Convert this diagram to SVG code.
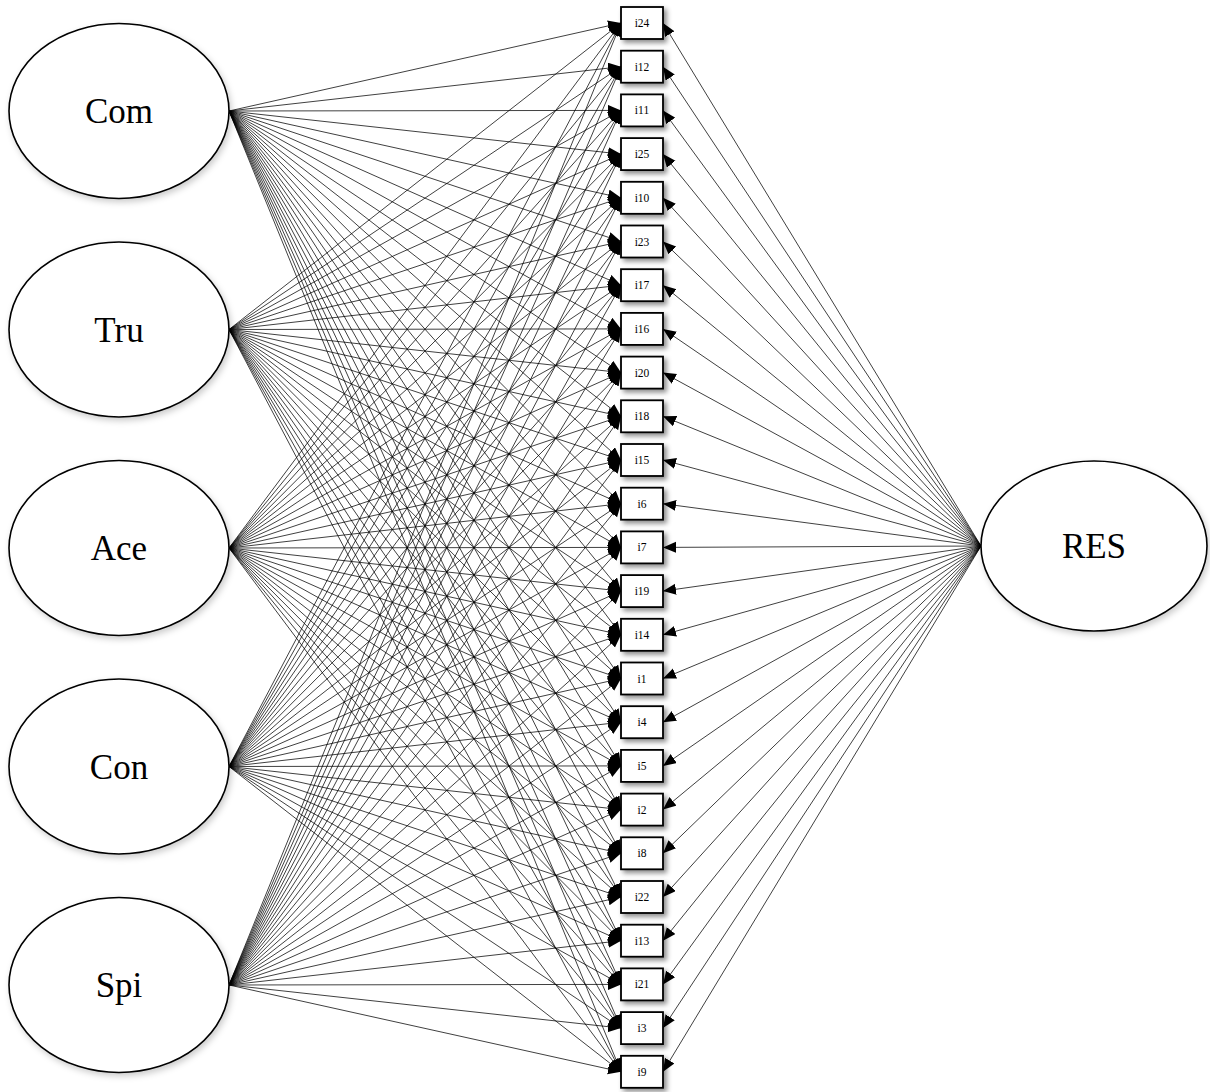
<svg xmlns="http://www.w3.org/2000/svg" width="1210" height="1092" viewBox="0 0 1210 1092">
<style>
.bg{fill:#fff}
.lat{fill:#fff;stroke:#000;stroke-width:1.6;filter:url(#esh)}
.lt{font-family:"Liberation Serif","DejaVu Serif",serif;font-size:35px;fill:#000;text-anchor:middle}
.box{fill:#fff;stroke:#000;stroke-width:1.8;filter:url(#bsh)}
.bt{font-family:"Liberation Serif","DejaVu Serif",serif;font-size:11.5px;fill:#000;text-anchor:middle}
#edges line{stroke:#000;stroke-width:.75;fill:none;marker-end:url(#ah)}
</style>
<defs>
<marker id="ah" markerUnits="userSpaceOnUse" markerWidth="14" markerHeight="12" refX="13" refY="5.5" orient="auto">
<path d="M0,0 L13,5.5 L0,11 z" fill="#000"/>
</marker>
<filter id="bsh" x="-30%" y="-30%" width="170%" height="170%">
<feDropShadow dx="3" dy="3" stdDeviation="2.5" flood-color="#000" flood-opacity="0.45"/>
</filter>
<filter id="esh" x="-10%" y="-10%" width="125%" height="130%">
<feDropShadow dx="2" dy="3" stdDeviation="3" flood-color="#000" flood-opacity="0.2"/>
</filter>
</defs>
<rect class="bg" x="0" y="0" width="1210" height="1092"/>
<g id="edges">
<g id="e-com">
<line x1="229" y1="111" x2="621" y2="23"/>
<line x1="229" y1="111" x2="621" y2="66.7"/>
<line x1="229" y1="111" x2="621" y2="110.4"/>
<line x1="229" y1="111" x2="621" y2="154.1"/>
<line x1="229" y1="111" x2="621" y2="197.8"/>
<line x1="229" y1="111" x2="621" y2="241.5"/>
<line x1="229" y1="111" x2="621" y2="285.2"/>
<line x1="229" y1="111" x2="621" y2="328.9"/>
<line x1="229" y1="111" x2="621" y2="372.6"/>
<line x1="229" y1="111" x2="621" y2="416.3"/>
<line x1="229" y1="111" x2="621" y2="460"/>
<line x1="229" y1="111" x2="621" y2="503.7"/>
<line x1="229" y1="111" x2="621" y2="547.4"/>
<line x1="229" y1="111" x2="621" y2="591.1"/>
<line x1="229" y1="111" x2="621" y2="634.8"/>
<line x1="229" y1="111" x2="621" y2="678.5"/>
<line x1="229" y1="111" x2="621" y2="722.2"/>
<line x1="229" y1="111" x2="621" y2="765.9"/>
<line x1="229" y1="111" x2="621" y2="809.6"/>
<line x1="229" y1="111" x2="621" y2="853.3"/>
<line x1="229" y1="111" x2="621" y2="897"/>
<line x1="229" y1="111" x2="621" y2="940.7"/>
<line x1="229" y1="111" x2="621" y2="984.4"/>
<line x1="229" y1="111" x2="621" y2="1028.1"/>
<line x1="229" y1="111" x2="621" y2="1071.8"/>
</g>
<g id="e-tru">
<line x1="229" y1="329.5" x2="621" y2="23"/>
<line x1="229" y1="329.5" x2="621" y2="66.7"/>
<line x1="229" y1="329.5" x2="621" y2="110.4"/>
<line x1="229" y1="329.5" x2="621" y2="154.1"/>
<line x1="229" y1="329.5" x2="621" y2="197.8"/>
<line x1="229" y1="329.5" x2="621" y2="241.5"/>
<line x1="229" y1="329.5" x2="621" y2="285.2"/>
<line x1="229" y1="329.5" x2="621" y2="328.9"/>
<line x1="229" y1="329.5" x2="621" y2="372.6"/>
<line x1="229" y1="329.5" x2="621" y2="416.3"/>
<line x1="229" y1="329.5" x2="621" y2="460"/>
<line x1="229" y1="329.5" x2="621" y2="503.7"/>
<line x1="229" y1="329.5" x2="621" y2="547.4"/>
<line x1="229" y1="329.5" x2="621" y2="591.1"/>
<line x1="229" y1="329.5" x2="621" y2="634.8"/>
<line x1="229" y1="329.5" x2="621" y2="678.5"/>
<line x1="229" y1="329.5" x2="621" y2="722.2"/>
<line x1="229" y1="329.5" x2="621" y2="765.9"/>
<line x1="229" y1="329.5" x2="621" y2="809.6"/>
<line x1="229" y1="329.5" x2="621" y2="853.3"/>
<line x1="229" y1="329.5" x2="621" y2="897"/>
<line x1="229" y1="329.5" x2="621" y2="940.7"/>
<line x1="229" y1="329.5" x2="621" y2="984.4"/>
<line x1="229" y1="329.5" x2="621" y2="1028.1"/>
<line x1="229" y1="329.5" x2="621" y2="1071.8"/>
</g>
<g id="e-ace">
<line x1="229" y1="548" x2="621" y2="23"/>
<line x1="229" y1="548" x2="621" y2="66.7"/>
<line x1="229" y1="548" x2="621" y2="110.4"/>
<line x1="229" y1="548" x2="621" y2="154.1"/>
<line x1="229" y1="548" x2="621" y2="197.8"/>
<line x1="229" y1="548" x2="621" y2="241.5"/>
<line x1="229" y1="548" x2="621" y2="285.2"/>
<line x1="229" y1="548" x2="621" y2="328.9"/>
<line x1="229" y1="548" x2="621" y2="372.6"/>
<line x1="229" y1="548" x2="621" y2="416.3"/>
<line x1="229" y1="548" x2="621" y2="460"/>
<line x1="229" y1="548" x2="621" y2="503.7"/>
<line x1="229" y1="548" x2="621" y2="547.4"/>
<line x1="229" y1="548" x2="621" y2="591.1"/>
<line x1="229" y1="548" x2="621" y2="634.8"/>
<line x1="229" y1="548" x2="621" y2="678.5"/>
<line x1="229" y1="548" x2="621" y2="722.2"/>
<line x1="229" y1="548" x2="621" y2="765.9"/>
<line x1="229" y1="548" x2="621" y2="809.6"/>
<line x1="229" y1="548" x2="621" y2="853.3"/>
<line x1="229" y1="548" x2="621" y2="897"/>
<line x1="229" y1="548" x2="621" y2="940.7"/>
<line x1="229" y1="548" x2="621" y2="984.4"/>
<line x1="229" y1="548" x2="621" y2="1028.1"/>
<line x1="229" y1="548" x2="621" y2="1071.8"/>
</g>
<g id="e-con">
<line x1="229" y1="766.5" x2="621" y2="23"/>
<line x1="229" y1="766.5" x2="621" y2="66.7"/>
<line x1="229" y1="766.5" x2="621" y2="110.4"/>
<line x1="229" y1="766.5" x2="621" y2="154.1"/>
<line x1="229" y1="766.5" x2="621" y2="197.8"/>
<line x1="229" y1="766.5" x2="621" y2="241.5"/>
<line x1="229" y1="766.5" x2="621" y2="285.2"/>
<line x1="229" y1="766.5" x2="621" y2="328.9"/>
<line x1="229" y1="766.5" x2="621" y2="372.6"/>
<line x1="229" y1="766.5" x2="621" y2="416.3"/>
<line x1="229" y1="766.5" x2="621" y2="460"/>
<line x1="229" y1="766.5" x2="621" y2="503.7"/>
<line x1="229" y1="766.5" x2="621" y2="547.4"/>
<line x1="229" y1="766.5" x2="621" y2="591.1"/>
<line x1="229" y1="766.5" x2="621" y2="634.8"/>
<line x1="229" y1="766.5" x2="621" y2="678.5"/>
<line x1="229" y1="766.5" x2="621" y2="722.2"/>
<line x1="229" y1="766.5" x2="621" y2="765.9"/>
<line x1="229" y1="766.5" x2="621" y2="809.6"/>
<line x1="229" y1="766.5" x2="621" y2="853.3"/>
<line x1="229" y1="766.5" x2="621" y2="897"/>
<line x1="229" y1="766.5" x2="621" y2="940.7"/>
<line x1="229" y1="766.5" x2="621" y2="984.4"/>
<line x1="229" y1="766.5" x2="621" y2="1028.1"/>
<line x1="229" y1="766.5" x2="621" y2="1071.8"/>
</g>
<g id="e-spi">
<line x1="229" y1="985" x2="621" y2="23"/>
<line x1="229" y1="985" x2="621" y2="66.7"/>
<line x1="229" y1="985" x2="621" y2="110.4"/>
<line x1="229" y1="985" x2="621" y2="154.1"/>
<line x1="229" y1="985" x2="621" y2="197.8"/>
<line x1="229" y1="985" x2="621" y2="241.5"/>
<line x1="229" y1="985" x2="621" y2="285.2"/>
<line x1="229" y1="985" x2="621" y2="328.9"/>
<line x1="229" y1="985" x2="621" y2="372.6"/>
<line x1="229" y1="985" x2="621" y2="416.3"/>
<line x1="229" y1="985" x2="621" y2="460"/>
<line x1="229" y1="985" x2="621" y2="503.7"/>
<line x1="229" y1="985" x2="621" y2="547.4"/>
<line x1="229" y1="985" x2="621" y2="591.1"/>
<line x1="229" y1="985" x2="621" y2="634.8"/>
<line x1="229" y1="985" x2="621" y2="678.5"/>
<line x1="229" y1="985" x2="621" y2="722.2"/>
<line x1="229" y1="985" x2="621" y2="765.9"/>
<line x1="229" y1="985" x2="621" y2="809.6"/>
<line x1="229" y1="985" x2="621" y2="853.3"/>
<line x1="229" y1="985" x2="621" y2="897"/>
<line x1="229" y1="985" x2="621" y2="940.7"/>
<line x1="229" y1="985" x2="621" y2="984.4"/>
<line x1="229" y1="985" x2="621" y2="1028.1"/>
<line x1="229" y1="985" x2="621" y2="1071.8"/>
</g>
<g id="e-res">
<line x1="981" y1="546" x2="663" y2="23"/>
<line x1="981" y1="546" x2="663" y2="66.7"/>
<line x1="981" y1="546" x2="663" y2="110.4"/>
<line x1="981" y1="546" x2="663" y2="154.1"/>
<line x1="981" y1="546" x2="663" y2="197.8"/>
<line x1="981" y1="546" x2="663" y2="241.5"/>
<line x1="981" y1="546" x2="663" y2="285.2"/>
<line x1="981" y1="546" x2="663" y2="328.9"/>
<line x1="981" y1="546" x2="663" y2="372.6"/>
<line x1="981" y1="546" x2="663" y2="416.3"/>
<line x1="981" y1="546" x2="663" y2="460"/>
<line x1="981" y1="546" x2="663" y2="503.7"/>
<line x1="981" y1="546" x2="663" y2="547.4"/>
<line x1="981" y1="546" x2="663" y2="591.1"/>
<line x1="981" y1="546" x2="663" y2="634.8"/>
<line x1="981" y1="546" x2="663" y2="678.5"/>
<line x1="981" y1="546" x2="663" y2="722.2"/>
<line x1="981" y1="546" x2="663" y2="765.9"/>
<line x1="981" y1="546" x2="663" y2="809.6"/>
<line x1="981" y1="546" x2="663" y2="853.3"/>
<line x1="981" y1="546" x2="663" y2="897"/>
<line x1="981" y1="546" x2="663" y2="940.7"/>
<line x1="981" y1="546" x2="663" y2="984.4"/>
<line x1="981" y1="546" x2="663" y2="1028.1"/>
<line x1="981" y1="546" x2="663" y2="1071.8"/>
</g>
</g>
<g id="latents">
<g id="Com"><ellipse class="lat" cx="119" cy="111" rx="110" ry="87.5"/><text class="lt" x="119" y="123">Com</text></g>
<g id="Tru"><ellipse class="lat" cx="119" cy="329.5" rx="110" ry="87.5"/><text class="lt" x="119" y="341.5">Tru</text></g>
<g id="Ace"><ellipse class="lat" cx="119" cy="548" rx="110" ry="87.5"/><text class="lt" x="119" y="560">Ace</text></g>
<g id="Con"><ellipse class="lat" cx="119" cy="766.5" rx="110" ry="87.5"/><text class="lt" x="119" y="778.5">Con</text></g>
<g id="Spi"><ellipse class="lat" cx="119" cy="985" rx="110" ry="87.5"/><text class="lt" x="119" y="997">Spi</text></g>
<g id="RES"><ellipse class="lat" cx="1094" cy="546" rx="113" ry="85"/><text class="lt" x="1094" y="558">RES</text></g>
</g>
<g id="items">
<g id="i24"><rect class="box" x="621" y="7" width="42" height="32"/><text class="bt" x="642" y="27">i24</text></g>
<g id="i12"><rect class="box" x="621" y="50.7" width="42" height="32"/><text class="bt" x="642" y="70.7">i12</text></g>
<g id="i11"><rect class="box" x="621" y="94.4" width="42" height="32"/><text class="bt" x="642" y="114.4">i11</text></g>
<g id="i25"><rect class="box" x="621" y="138.1" width="42" height="32"/><text class="bt" x="642" y="158.1">i25</text></g>
<g id="i10"><rect class="box" x="621" y="181.8" width="42" height="32"/><text class="bt" x="642" y="201.8">i10</text></g>
<g id="i23"><rect class="box" x="621" y="225.5" width="42" height="32"/><text class="bt" x="642" y="245.5">i23</text></g>
<g id="i17"><rect class="box" x="621" y="269.2" width="42" height="32"/><text class="bt" x="642" y="289.2">i17</text></g>
<g id="i16"><rect class="box" x="621" y="312.9" width="42" height="32"/><text class="bt" x="642" y="332.9">i16</text></g>
<g id="i20"><rect class="box" x="621" y="356.6" width="42" height="32"/><text class="bt" x="642" y="376.6">i20</text></g>
<g id="i18"><rect class="box" x="621" y="400.3" width="42" height="32"/><text class="bt" x="642" y="420.3">i18</text></g>
<g id="i15"><rect class="box" x="621" y="444" width="42" height="32"/><text class="bt" x="642" y="464">i15</text></g>
<g id="i6"><rect class="box" x="621" y="487.7" width="42" height="32"/><text class="bt" x="642" y="507.7">i6</text></g>
<g id="i7"><rect class="box" x="621" y="531.4" width="42" height="32"/><text class="bt" x="642" y="551.4">i7</text></g>
<g id="i19"><rect class="box" x="621" y="575.1" width="42" height="32"/><text class="bt" x="642" y="595.1">i19</text></g>
<g id="i14"><rect class="box" x="621" y="618.8" width="42" height="32"/><text class="bt" x="642" y="638.8">i14</text></g>
<g id="i1"><rect class="box" x="621" y="662.5" width="42" height="32"/><text class="bt" x="642" y="682.5">i1</text></g>
<g id="i4"><rect class="box" x="621" y="706.2" width="42" height="32"/><text class="bt" x="642" y="726.2">i4</text></g>
<g id="i5"><rect class="box" x="621" y="749.9" width="42" height="32"/><text class="bt" x="642" y="769.9">i5</text></g>
<g id="i2"><rect class="box" x="621" y="793.6" width="42" height="32"/><text class="bt" x="642" y="813.6">i2</text></g>
<g id="i8"><rect class="box" x="621" y="837.3" width="42" height="32"/><text class="bt" x="642" y="857.3">i8</text></g>
<g id="i22"><rect class="box" x="621" y="881" width="42" height="32"/><text class="bt" x="642" y="901">i22</text></g>
<g id="i13"><rect class="box" x="621" y="924.7" width="42" height="32"/><text class="bt" x="642" y="944.7">i13</text></g>
<g id="i21"><rect class="box" x="621" y="968.4" width="42" height="32"/><text class="bt" x="642" y="988.4">i21</text></g>
<g id="i3"><rect class="box" x="621" y="1012.1" width="42" height="32"/><text class="bt" x="642" y="1032.1">i3</text></g>
<g id="i9"><rect class="box" x="621" y="1055.8" width="42" height="32"/><text class="bt" x="642" y="1075.8">i9</text></g>
</g>
</svg>
